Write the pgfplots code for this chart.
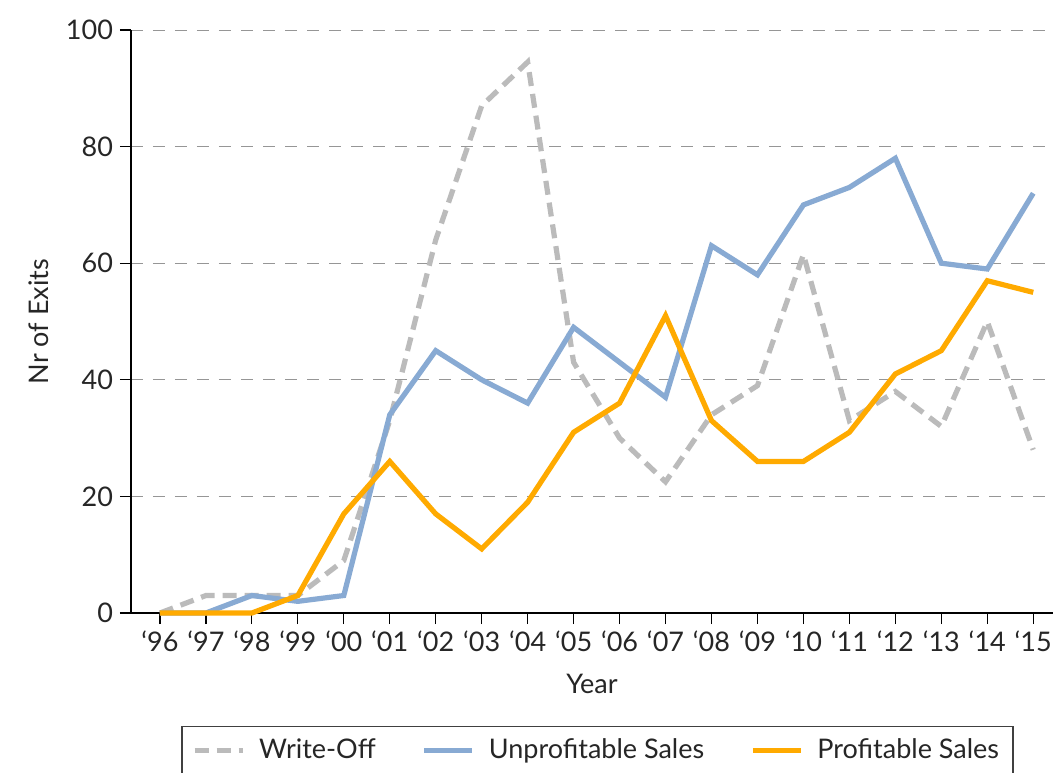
\documentclass[border=0pt]{standalone}
\usepackage{fontspec}
\setmainfont{Lato}
\usepackage{pgfplots}
\pgfplotsset{compat=1.18}
\definecolor{wgray}{RGB}{187,187,187}
\definecolor{ublue}{RGB}{136,170,211}
\definecolor{porange}{RGB}{255,170,0}
\definecolor{gridgray}{RGB}{150,150,150}
\begin{document}
\begin{tikzpicture}
\begin{axis}[name=ax,
  scale only axis, width=461pt, height=291.5pt,
  xmin=-0.63, xmax=19.43, ymin=0, ymax=100,
  axis x line*=bottom, axis y line*=left,
  axis line style={black, line width=0.6pt},
  xtick={0,...,19},
  xticklabels={‘96,‘97,‘98,‘99,‘00,‘01,‘02,‘03,‘04,‘05,‘06,‘07,‘08,‘09,‘10,‘11,‘12,‘13,‘14,‘15},
  ytick={0,20,...,100},
  tick align=outside, major tick length=5.5pt,
  tick style={black, line width=0.6pt},
  ymajorgrids, major grid style={gridgray, dash pattern=on 6pt off 5pt, line width=0.5pt},
  ticklabel style={font=\fontsize{13.5}{15}\selectfont, text=black!85},
  /pgf/number format/assume math mode=true,
  xlabel={Year}, ylabel={Nr of Exits},
  label style={font=\fontsize{13.5}{15}\selectfont, text=black!85},
  xlabel style={yshift=-4pt},
  ylabel style={yshift=2pt},
  legend columns=3,
  legend style={at={(0.506,-0.194)}, anchor=north, draw=black!75, line width=0.6pt,
    font=\fontsize{13.5}{15}\selectfont, text=black!85, inner xsep=5pt, inner ysep=4pt,
    /tikz/every even column/.append style={column sep=21pt}},
  legend image code/.code={\draw[#1] plot coordinates {(0pt,0pt)(24pt,0pt)};\path (29pt,0pt);},
  clip=false,
]
\addplot[wgray, line width=2.6pt, dash pattern=on 7pt off 4pt] coordinates {
(0,0)(1,3)(2,3)(3,3)(4,9)(5,33)(6,64)(7,87)(8,94.5)(9,43)(10,30)(11,22.5)(12,34)(13,39)(14,61.5)(15,33)(16,38)(17,32)(18,50)(19,28)};
\addlegendentry{Write-Off}
\addplot[ublue, line width=2.6pt] coordinates {
(0,0)(1,0)(2,3)(3,2)(4,3)(5,34)(6,45)(7,40)(8,36)(9,49)(10,43)(11,37)(12,63)(13,58)(14,70)(15,73)(16,78)(17,60)(18,59)(19,72)};
\addlegendentry{Unprofitable Sales}
\addplot[porange, line width=2.6pt] coordinates {
(0,0)(1,0)(2,0)(3,3)(4,17)(5,26)(6,17)(7,11)(8,19)(9,31)(10,36)(11,51)(12,33)(13,26)(14,26)(15,31)(16,41)(17,45)(18,57)(19,55)};
\addlegendentry{Profitable Sales}
\end{axis}
\pgfresetboundingbox
\path (ax.south west) ++(-65.5pt,-79.5pt) rectangle ++(526.5pt,386pt);
\end{tikzpicture}
\end{document}
